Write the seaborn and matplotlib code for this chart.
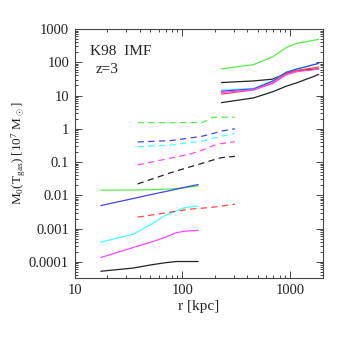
import numpy as np
import pandas as pd
import seaborn as sns
import matplotlib
matplotlib.use("Agg")
import matplotlib.pyplot as plt
from matplotlib.ticker import FuncFormatter, LogLocator

# radii of the three groups of profiles [kpc]
r_inner = [17.5, 35, 52.5, 70, 87.5, 105, 122.5, 140]
r_mid = [38.4, 76.8, 115.2, 153.6, 192, 230.4, 268.8, 307.2]
r_outer = [230, 460, 690, 920, 1150, 1380, 1610, 1840]

# inner group, solid lines
inner_green = [0.0142, 0.0144, 0.0147, 0.0152, 0.0160, 0.0170, 0.0180, 0.0190]
inner_blue = [0.0049, 0.0080, 0.0107, 0.0130, 0.0152, 0.0173, 0.0193, 0.0210]
inner_cyan = [0.00039, 0.00068, 0.0014, 0.0025, 0.0034, 0.0042, 0.0046, 0.0047]
inner_magenta = [0.000135, 0.00027, 0.00040, 0.00055, 0.00075, 0.00083, 0.00086, 0.00088]
inner_black = [5.2e-5, 6.5e-5, 8.2e-5, 9.4e-5, 1.02e-4, 1.02e-4, 1.02e-4, 1.02e-4]

# middle group, dashed lines
mid_green = [1.53, 1.53, 1.53, 1.55, 2.20, 2.22, 2.22, 2.23]
mid_blue = [0.40, 0.44, 0.52, 0.60, 0.72, 0.85, 0.93, 1.00]
mid_cyan = [0.29, 0.32, 0.38, 0.43, 0.52, 0.60, 0.66, 0.72]
mid_magenta = [0.082, 0.13, 0.17, 0.23, 0.31, 0.36, 0.38, 0.41]
mid_black = [0.022, 0.047, 0.070, 0.092, 0.115, 0.135, 0.143, 0.148]
mid_red = [0.0022, 0.0031, 0.0038, 0.0041, 0.0044, 0.0047, 0.0051, 0.0054]

# outer group, solid lines
outer_green = [63, 85, 147, 275, 370, 410, 450, 490]
outer_black_hi = [24.5, 27.5, 31, 47, 56, 59, 61, 63]
outer_cyan = [14.5, 16.5, 28, 50, 64, 73, 82, 90]
outer_blue = [13.5, 15.8, 27, 50, 62, 72, 83, 93]
outer_magenta = [12.3, 15, 23, 42, 52, 56, 59, 62]
outer_red = [11, 14.8, 24, 45, 56, 62, 67, 72]
outer_black_lo = [6.1, 8.5, 13, 19, 24, 30, 36, 43]

colors = {"green": "#55ee44", "blue": "#4444ee", "cyan": "#44ffff",
          "magenta": "#ff44ff", "red": "#ff4444", "black": "#222222"}

series = [
    (r_inner, inner_green, "green", "-"),
    (r_inner, inner_blue, "blue", "-"),
    (r_inner, inner_cyan, "cyan", "-"),
    (r_inner, inner_magenta, "magenta", "-"),
    (r_inner, inner_black, "black", "-"),
    (r_mid, mid_green, "green", "--"),
    (r_mid, mid_blue, "blue", "--"),
    (r_mid, mid_cyan, "cyan", "--"),
    (r_mid, mid_magenta, "magenta", "--"),
    (r_mid, mid_black, "black", "--"),
    (r_mid, mid_red, "red", "--"),
    (r_outer, outer_green, "green", "-"),
    (r_outer, outer_black_hi, "black", "-"),
    (r_outer, outer_cyan, "cyan", "-"),
    (r_outer, outer_blue, "blue", "-"),
    (r_outer, outer_red, "red", "-"),
    (r_outer, outer_magenta, "magenta", "-"),
    (r_outer, outer_black_lo, "black", "-"),
]

sns.set_style("ticks")
plt.rcParams["font.family"] = ["Liberation Serif", "DejaVu Serif"]
plt.rcParams["mathtext.fontset"] = "custom"
plt.rcParams["mathtext.rm"] = "Liberation Serif"
plt.rcParams["mathtext.it"] = "Liberation Serif"

fig = plt.figure(figsize=(3.41, 3.41), dpi=100)
ax = fig.add_axes([0.219, 0.184, 0.727, 0.731])

for x, y, c, ls in series:
    df = pd.DataFrame({"r": x, "m": y})
    sns.lineplot(data=df, x="r", y="m", ax=ax, color=colors[c],
                 estimator=None, sort=False, linewidth=0.9)
    if ls == "--":
        ax.lines[-1].set_dashes([5, 3.5])

ax.set_xscale("log")
ax.set_yscale("log")
ax.set_xlim(10, 2000)
ax.set_ylim(3.2e-5, 1000)

fmt = FuncFormatter(lambda v, p: "%g" % v)
ax.xaxis.set_major_formatter(fmt)
ax.yaxis.set_major_formatter(fmt)
ax.yaxis.set_major_locator(LogLocator(base=10, numticks=20))
ax.yaxis.set_minor_locator(LogLocator(base=10, subs=np.arange(2, 10), numticks=20))
ax.yaxis.set_minor_formatter(FuncFormatter(lambda v, p: ""))
ax.xaxis.set_minor_formatter(FuncFormatter(lambda v, p: ""))

ax.tick_params(which="both", direction="in", top=True, right=True,
               labelsize=10.5, color="#444444", width=0.7, labelcolor="#222222")
ax.tick_params(which="major", length=5, pad=4)
ax.tick_params(which="minor", length=2.5)
for s in ax.spines.values():
    s.set_color("#444444")
    s.set_linewidth(0.8)

ax.set_xlabel("r [kpc]", fontsize=11, labelpad=2, color="#222222")
ax.set_ylabel(r"M$_0$(T$_{\rm gas}$) [10$^7$ M$_\odot$]", fontsize=9.5,
              labelpad=1, color="#222222")

ax.text(0.06, 0.935, "K98  IMF", transform=ax.transAxes, fontsize=11,
        va="top", color="#222222")
ax.text(0.085, 0.865, "z=3", transform=ax.transAxes, fontsize=11,
        va="top", color="#222222")

fig.savefig("out.png", dpi=100)
